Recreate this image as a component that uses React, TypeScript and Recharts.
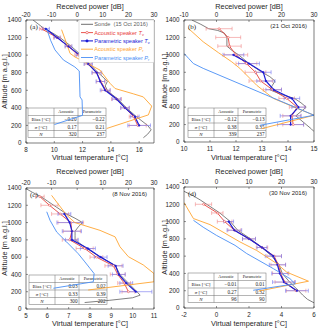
import React from "react";
import { ComposedChart, Line, XAxis, YAxis, ErrorBar } from "recharts";

const altTicks = [0, 200, 400, 600, 800, 1000, 1200, 1400];

// (a) 15 Oct 2016
const sondeAltA = [1400, 1350, 1300, 1250, 1200, 1100, 1000, 900, 800, 750, 700, 650, 600, 550, 500, 400, 300, 250, 200, 150, 100, 60];
const sondeTA = [8.5, 8.9, 9.3, 9.9, 10.4, 11.2, 11.9, 12.5, 13.1, 13.45, 13.75, 13.6, 13.75, 14.1, 14.5, 15.1, 15.8, 16.2, 16.6, 16.85, 16.6, 16.3];
const acAltA = [1300, 1200, 1100, 1000, 900, 800, 700, 600, 500, 400, 300, 200];
const acTA = [9.1, 10.2, 11.0, 11.7, 12.4, 13.0, 13.3, 13.65, 14.4, 15.0, 15.6, 15.9];
const acErrA = [0.15, 0.25, 0.2, 0.25, 0.25, 0.3, 0.3, 0.3, 0.35, 0.3, 0.3, 0.6];
const paAltA = [1300, 1200, 1100, 1000, 900, 800, 700, 600, 500, 400, 300, 200];
const paTA = [9.4, 10.2, 11.0, 11.8, 12.4, 13.0, 13.25, 13.6, 14.4, 15.0, 15.7, 16.0];
const paErrA = [0.25, 0.2, 0.25, 0.25, 0.3, 0.35, 0.3, 0.35, 0.3, 0.3, 0.3, 0.8];
const acPAltA = [1290, 1130, 1020, 980, 830, 680, 620, 560, 525, 420, 320, 165];
const acPA = [-6.1, -4.1, -2.8, -0.9, 8.9, 12.8, 14.8, 21.9, 25.8, 29.1, 27.8, 11.5];
const paPAltA = [1300, 1170, 1060, 945, 865, 820, 525, 490, 315, 210];
const paPA = [-11.9, -10.4, -8.7, -5.4, -0.9, 0.8, 1.1, 1.9, 2.1, -8.9];

// (b) 21 Oct 2016
const sondeAltB = [1400, 1350, 1300, 1280, 1250, 1200, 1100, 1050, 1000, 900, 800, 750, 700, 650, 600, 550, 500, 450, 400, 350, 300, 250, 200, 150, 120];
const sondeTB = [10.3, 10.65, 10.95, 11.3, 11.55, 11.65, 11.65, 11.85, 12.1, 12.5, 13.0, 13.3, 13.5, 13.4, 13.3, 13.7, 14.25, 14.5, 14.7, 14.5, 14.3, 14.5, 14.7, 14.9, 15.0];
const acAltB = [1300, 1200, 1100, 1000, 900, 800, 700, 600, 500, 400, 300, 200];
const acTB = [11.35, 11.7, 11.75, 12.0, 12.4, 12.75, 12.95, 13.4, 13.95, 14.35, 14.15, 14.2];
const acErrB = [0.5, 0.48, 0.45, 0.45, 0.4, 0.4, 0.45, 0.35, 0.3, 0.3, 0.35, 0.4];
const paAltB = [1000, 900, 800, 700, 600, 500, 400, 300, 200];
const paTB = [11.9, 12.5, 13.05, 13.15, 13.45, 14.15, 14.4, 14.1, 14.1];
const paErrB = [0.4, 0.4, 0.3, 0.35, 0.3, 0.3, 0.25, 0.4, 0.5];
const acPAltB = [1305, 1150, 1025, 920, 845, 650, 500, 405, 307, 153];
const acPB = [-8.7, -4.1, 0.6, 4.7, 7.2, 12.4, 17.5, 23.6, 30, 13.9];
const paPAltB = [1017, 960, 900, 845, 307, 192];
const paPB = [-10, -8.6, -7.1, -4.1, 30, 13.4];

// (c) 8 Nov 2016
const sondeAltC = [1400, 1350, 1300, 1250, 1200, 1150, 1100, 1050, 1000, 950, 900, 850, 800, 700, 600, 500, 400, 300, 200, 160, 130, 100, 75];
const sondeTC = [4.95, 5.3, 5.7, 6.0, 6.3, 6.6, 6.9, 7.3, 7.65, 7.45, 7.3, 7.3, 7.3, 7.85, 8.5, 9.2, 9.4, 9.8, 10.2, 10.35, 10.0, 8.9, 7.75];
const acAltC = [1300, 1200, 1100, 1000, 900, 800, 700, 600, 500, 400, 300, 200];
const acTC = [5.65, 6.1, 6.6, 7.1, 7.15, 7.05, 7.75, 8.3, 9.1, 9.3, 9.6, 9.8];
const acErrC = [0.2, 0.4, 0.4, 0.6, 0.4, 0.35, 0.4, 0.3, 0.4, 0.35, 0.3, 0.3];
const paAltC = [1100, 1000, 900, 800, 700, 600, 500, 400, 300, 200];
const paTC = [6.8, 7.05, 7.15, 7.15, 7.9, 8.5, 9.2, 9.35, 9.7, 10.15];
const paErrC = [0.3, 0.6, 0.45, 0.3, 0.35, 0.3, 0.35, 0.3, 0.3, 0.75];
const acPAltC = [1315, 1085, 1000, 910, 835, 720, 605, 510, 410, 315, 220];
const acPC = [-10, -4.1, -0.9, 8.9, 14.8, 16.7, 20.0, 25.8, 30, 30, 4.3];
const paPAltC = [1125, 1025, 890, 775, 640, 545, 470, 410, 315, 240];
const paPC = [-11.9, -10.6, -8.0, -4.1, 0.4, 3.0, 5.0, 6.6, 6.3, -9.3];

// (d) 30 Nov 2016
const sondeAltD = [1350, 1300, 1250, 1200, 1100, 1000, 900, 800, 700, 600, 500, 400, 300, 200, 150, 100, 60];
const sondeTD = [-2.0, -1.45, -1.0, -0.6, 0.2, 0.85, 1.3, 2.1, 2.8, 3.4, 3.85, 4.05, 4.5, 5.05, 5.3, 5.6, 6.0];
const acAltD = [1200, 1100, 1000, 900, 800, 700, 600, 500, 400, 300, 200];
const acTD = [-0.8, 0.05, 0.5, 1.1, 2.0, 2.8, 3.55, 3.8, 3.95, 4.2, 4.9];
const acErrD = [0.5, 0.35, 0.45, 0.4, 0.4, 0.35, 0.45, 0.45, 0.5, 0.6, 0.6];
const paAltD = [1000, 900, 800, 700, 600, 500, 400, 300, 200];
const paTD = [0.75, 1.1, 2.0, 2.8, 3.5, 3.75, 3.9, 4.15, 4.95];
const paErrD = [0.3, 0.45, 0.4, 0.3, 0.5, 0.5, 0.5, 0.7, 0.7];
const acPAltD = [1220, 1035, 965, 765, 665, 515, 415, 310, 195];
const acPD = [-10, -7.1, -2.0, 7.2, 12.4, 18.5, 21.6, 28.3, 12.9];
const paPAltD = [1015, 935, 840, 725, 630, 455, 340, 280, 205];
const paPD = [-7.1, -4.1, 0.0, 5.7, 9.3, 17.5, 22.6, 24.2, 11.3];

// table stats: [acoustic, parametric]
const biasA = ["\u22120.20", "\u22120.22"];
const sigmaA = ["0.17", "0.21"];
const countA = ["320", "237"];
const biasB = ["\u22120.12", "\u22120.13"];
const sigmaB = ["0.38", "0.35"];
const countB = ["339", "237"];
const biasC = ["0.03", "0.02"];
const sigmaC = ["0.33", "0.39"];
const countC = ["300", "202"];
const biasD = ["\u22120.01", "0.01"];
const sigmaD = ["0.27", "0.32"];
const countD = ["96", "90"];

const C_SONDE = "#5f5f5f";
const C_AC = "#e8413a";
const C_AC_ERR = "#f08a8a";
const C_PA = "#1b1bd6";
const C_PA_ERR = "#7474f0";
const C_ACP = "#ffa531";
const C_PAP = "#4a8ff5";
const AXIS = "#262626";
const SANS = "'Liberation Sans', Arial, Helvetica, sans-serif";
const SERIF = "'Liberation Serif', 'Times New Roman', serif";

type Pt = { alt: number; v: number; e: number };
const zip = (alts: number[], vals: number[], errs?: number[]): Pt[] =>
  alts.map((alt, i) => ({ alt, v: vals[i], e: errs ? errs[i] : 0 }));

type PanelSpec = {
  x: number;
  y: number;
  h: number;
  left: number;
  top: number;
  bottom: number;
  tDomain: [number, number];
  tTicks: number[];
  pDomain: [number, number];
  pTicks: number[];
  letter: string;
  date?: string;
  legend?: boolean;
  sonde: Pt[];
  ac: Pt[];
  pa: Pt[];
  acP: Pt[];
  paP: Pt[];
  table: { x: number; y: number; bias: string[]; sigma: string[]; n: string[] };
};

const panels: PanelSpec[] = [
  {
    x: 0, y: 0, h: 165, left: 26, top: 20, bottom: 143,
    tDomain: [8, 17.05], tTicks: [8, 10, 12, 14, 16],
    pDomain: [-20, 30], pTicks: [-20, -10, 0, 10, 20, 30],
    letter: "(a)", legend: true,
    sonde: zip(sondeAltA, sondeTA), ac: zip(acAltA, acTA, acErrA), pa: zip(paAltA, paTA, paErrA),
    acP: zip(acPAltA, acPA), paP: zip(paPAltA, paPA),
    table: { x: 28, y: 108, bias: biasA, sigma: sigmaA, n: countA },
  },
  {
    x: 160, y: 0, h: 165, left: 24, top: 20, bottom: 142,
    tDomain: [10, 15], tTicks: [10, 11, 12, 13, 14, 15],
    pDomain: [-10, 30], pTicks: [-10, 0, 10, 20, 30],
    letter: "(b)", date: "(21 Oct 2016)",
    sonde: zip(sondeAltB, sondeTB), ac: zip(acAltB, acTB, acErrB), pa: zip(paAltB, paTB, paErrB),
    acP: zip(acPAltB, acPB), paP: zip(paPAltB, paPB),
    table: { x: 28, y: 108, bias: biasB, sigma: sigmaB, n: countB },
  },
  {
    x: 0, y: 165, h: 166, left: 26, top: 23, bottom: 144,
    tDomain: [5, 11], tTicks: [5, 6, 7, 8, 9, 10, 11],
    pDomain: [-20, 30], pTicks: [-20, -10, 0, 10, 20, 30],
    letter: "(c)", date: "(8 Nov 2016)",
    sonde: zip(sondeAltC, sondeTC), ac: zip(acAltC, acTC, acErrC), pa: zip(paAltC, paTC, paErrC),
    acP: zip(acPAltC, acPC), paP: zip(paPAltC, paPC),
    table: { x: 29, y: 110, bias: biasC, sigma: sigmaC, n: countC },
  },
  {
    x: 160, y: 165, h: 166, left: 24, top: 22, bottom: 143,
    tDomain: [-2, 6], tTicks: [-2, 0, 2, 4, 6],
    pDomain: [-10, 30], pTicks: [-10, 0, 10, 20, 30],
    letter: "(d)", date: "(30 Nov 2016)",
    sonde: zip(sondeAltD, sondeTD), ac: zip(acAltD, acTD, acErrD), pa: zip(paAltD, paTD, paErrD),
    acP: zip(acPAltD, acPD), paP: zip(paPAltD, paPD),
    table: { x: 28, y: 108, bias: biasD, sigma: sigmaD, n: countD },
  },
];

const W = 160;
const RIGHT = 154;
const tickStyle = { fontSize: 6.3, fill: AXIS, fontFamily: SANS };

function StatsTable({ x, y, bias, sigma, n }: PanelSpec["table"]) {
  const cols = [x, x + 26, x + 50, x + 78];
  const rows = [y, y + 7.5, y + 15, y + 22.5, y + 29.5];
  const stroke = "#6a6a6a";
  const labelX = (cols[0] + cols[1]) / 2;
  const vals = [bias, sigma, n];
  return (
    <g>
      <rect x={cols[0]} y={rows[0]} width={cols[3] - cols[0]} height={rows[4] - rows[0]} fill="#fff" stroke={stroke} strokeWidth={0.5} />
      {rows.slice(1, 4).map((ry) => (
        <line key={ry} x1={cols[0]} x2={cols[3]} y1={ry} y2={ry} stroke={stroke} strokeWidth={0.5} />
      ))}
      {cols.slice(1, 3).map((cx) => (
        <line key={cx} x1={cx} x2={cx} y1={rows[0]} y2={rows[4]} stroke={stroke} strokeWidth={0.5} />
      ))}
      <g fontFamily={SERIF} fill="#222">
        <text x={(cols[1] + cols[2]) / 2} y={rows[0] + 5.3} fontSize={4.3} textAnchor="middle">Acoustic</text>
        <text x={(cols[2] + cols[3]) / 2} y={rows[0] + 5.3} fontSize={4.3} textAnchor="middle">Parametric</text>
        <text x={labelX} y={rows[1] + 5.6} fontSize={5} textAnchor="middle">Bias [°C]</text>
        <text x={labelX} y={rows[2] + 5.6} fontSize={5} textAnchor="middle">
          <tspan fontStyle="italic">σ</tspan> [°C]
        </text>
        <text x={labelX} y={rows[3] + 5.3} fontSize={5} textAnchor="middle" fontStyle="italic">N</text>
        {vals.map((pair, r) => (
          <g key={r}>
            <text x={cols[2] - 1.5} y={rows[r + 1] + 5.6} fontSize={5.2} textAnchor="end">{pair[0]}</text>
            <text x={cols[3] - 1.5} y={rows[r + 1] + 5.6} fontSize={5.2} textAnchor="end">{pair[1]}</text>
          </g>
        ))}
      </g>
    </g>
  );
}

function LegendBox() {
  const x0 = 79;
  const rows = [
    { c: C_SONDE, label: "Sonde  (15 Oct 2016)", sym: "", sub: "", dot: false },
    { c: C_AC, label: "Acoustic speaker ", sym: "T", sub: "v", dot: true },
    { c: C_PA, label: "Parametric speaker ", sym: "T", sub: "v", dot: true },
    { c: C_ACP, label: "Acoustic speaker ", sym: "P", sub: "r", dot: false },
    { c: C_PAP, label: "Parametric speaker ", sym: "P", sub: "r", dot: false },
  ];
  return (
    <g>
      <rect x={x0} y={20} width={RIGHT - x0} height={42.5} fill="#fff" stroke="#b5b5b5" strokeWidth={0.4} />
      {rows.map((r, i) => {
        const cy = 24.3 + i * 8.3;
        return (
          <g key={i}>
            <line x1={81} x2={93} y1={cy} y2={cy} stroke={r.c} strokeWidth={i === 2 ? 1.1 : 0.9} />
            {r.dot && <circle cx={87} cy={cy} r={1.2} fill={i === 1 ? "#fff" : r.c} stroke={r.c} strokeWidth={0.6} />}
            <text x={94.3} y={cy + 2} fontSize={5.6} fontFamily={SANS} fill={r.c} style={{ whiteSpace: "pre" }}>
              {r.label}
              {r.sym && <tspan fontStyle="italic">{r.sym}</tspan>}
              {r.sub && <tspan fontSize={3.8} dy={1.2}>{r.sub}</tspan>}
            </text>
          </g>
        );
      })}
    </g>
  );
}

function Panel({ s }: { s: PanelSpec }) {
  const cx = (s.left + RIGHT) / 2;
  const cy = (s.top + s.bottom) / 2;
  return (
    <div style={{ position: "absolute", left: s.x, top: s.y, width: W, height: s.h }}>
      <svg width={W} height={s.h} style={{ position: "absolute", left: 0, top: 0 }}>
        <StatsTable {...s.table} />
      </svg>
      <div style={{ position: "absolute", left: 0, top: 0 }}>
        <ComposedChart
          width={W}
          height={s.h}
          layout="vertical"
          margin={{ top: 0, right: W - RIGHT - 1, bottom: 0, left: 0 }}
        >
          <XAxis
            xAxisId="t"
            type="number"
            orientation="bottom"
            domain={s.tDomain}
            ticks={s.tTicks}
            interval={0}
            allowDataOverflow
            height={s.h - s.bottom}
            tick={tickStyle}
            tickSize={-2}
            tickMargin={7}
            axisLine={{ stroke: AXIS, strokeWidth: 0.6 }}
            tickLine={{ stroke: AXIS, strokeWidth: 0.5 }}
          />
          <XAxis
            xAxisId="p"
            type="number"
            orientation="top"
            domain={s.pDomain}
            ticks={s.pTicks}
            interval={0}
            allowDataOverflow
            height={s.top}
            tick={tickStyle}
            tickSize={-2}
            tickMargin={5.5}
            axisLine={{ stroke: AXIS, strokeWidth: 0.6 }}
            tickLine={{ stroke: AXIS, strokeWidth: 0.5 }}
          />
          <YAxis
            yAxisId="a"
            type="number"
            dataKey="alt"
            domain={[0, 1400]}
            reversed
            ticks={altTicks}
            interval={0}
            allowDataOverflow
            width={s.left}
            tick={tickStyle}
            tickSize={-2}
            tickMargin={6.5}
            axisLine={{ stroke: AXIS, strokeWidth: 0.6 }}
            tickLine={{ stroke: AXIS, strokeWidth: 0.5 }}
          />
          <YAxis
            yAxisId="r"
            orientation="right"
            type="number"
            dataKey="alt"
            domain={[0, 1400]}
            reversed
            ticks={altTicks}
            interval={0}
            width={1}
            tick={false}
            tickSize={-2}
            axisLine={{ stroke: AXIS, strokeWidth: 0.6 }}
            tickLine={{ stroke: AXIS, strokeWidth: 0.5 }}
          />
          <Line data={s.sonde} dataKey="v" xAxisId="t" yAxisId="a" stroke={C_SONDE} strokeWidth={0.8} dot={false} isAnimationActive={false} />
          <Line data={s.ac} dataKey="v" xAxisId="t" yAxisId="a" stroke={C_AC} strokeWidth={0.9} dot={{ r: 1, fill: "#fff", stroke: C_AC, strokeWidth: 0.5 }} isAnimationActive={false}>
            <ErrorBar dataKey="e" direction="x" width={2} stroke={C_AC_ERR} strokeWidth={0.6} isAnimationActive={false} />
          </Line>
          <Line data={s.pa} dataKey="v" xAxisId="t" yAxisId="a" stroke={C_PA} strokeWidth={1.2} dot={{ r: 0.9, fill: C_PA, stroke: C_PA, strokeWidth: 0.4 }} isAnimationActive={false}>
            <ErrorBar dataKey="e" direction="x" width={2} stroke={C_PA_ERR} strokeWidth={0.6} isAnimationActive={false} />
          </Line>
          <Line data={s.acP} dataKey="v" xAxisId="p" yAxisId="a" stroke={C_ACP} strokeWidth={0.9} dot={false} isAnimationActive={false} />
          <Line data={s.paP} dataKey="v" xAxisId="p" yAxisId="a" stroke={C_PAP} strokeWidth={0.9} dot={false} isAnimationActive={false} />
        </ComposedChart>
      </div>
      <svg width={W} height={s.h} style={{ position: "absolute", left: 0, top: 0, pointerEvents: "none" }}>
        <text x={cx} y={8.6} fontSize={7.3} fontFamily={SANS} fill={AXIS} textAnchor="middle">Received power [dB]</text>
        <text x={cx} y={s.h - 5.5} fontSize={7.3} fontFamily={SANS} fill={AXIS} textAnchor="middle">Virtual temperature [°C]</text>
        <text x={7.3} y={cy} fontSize={7.3} fontFamily={SANS} fill={AXIS} textAnchor="middle" transform={`rotate(-90 7.3 ${cy})`}>
          Altitude [m a.g.l.]
        </text>
        <text x={s.left + 4} y={s.top + 8.5} fontSize={7} fontFamily={SERIF} fill="#222">{s.letter}</text>
        {s.date && (
          <text x={147} y={s.top + 7.8} fontSize={6} fontFamily={SANS} fill={AXIS} textAnchor="end">{s.date}</text>
        )}
        {s.legend && <LegendBox />}
      </svg>
    </div>
  );
}

export default function App() {
  return (
    <div style={{ position: "absolute", left: 0, top: 0, width: 320, height: 331, background: "#fff", fontFamily: SANS }}>
      {panels.map((p) => (
        <Panel key={p.letter} s={p} />
      ))}
    </div>
  );
}
